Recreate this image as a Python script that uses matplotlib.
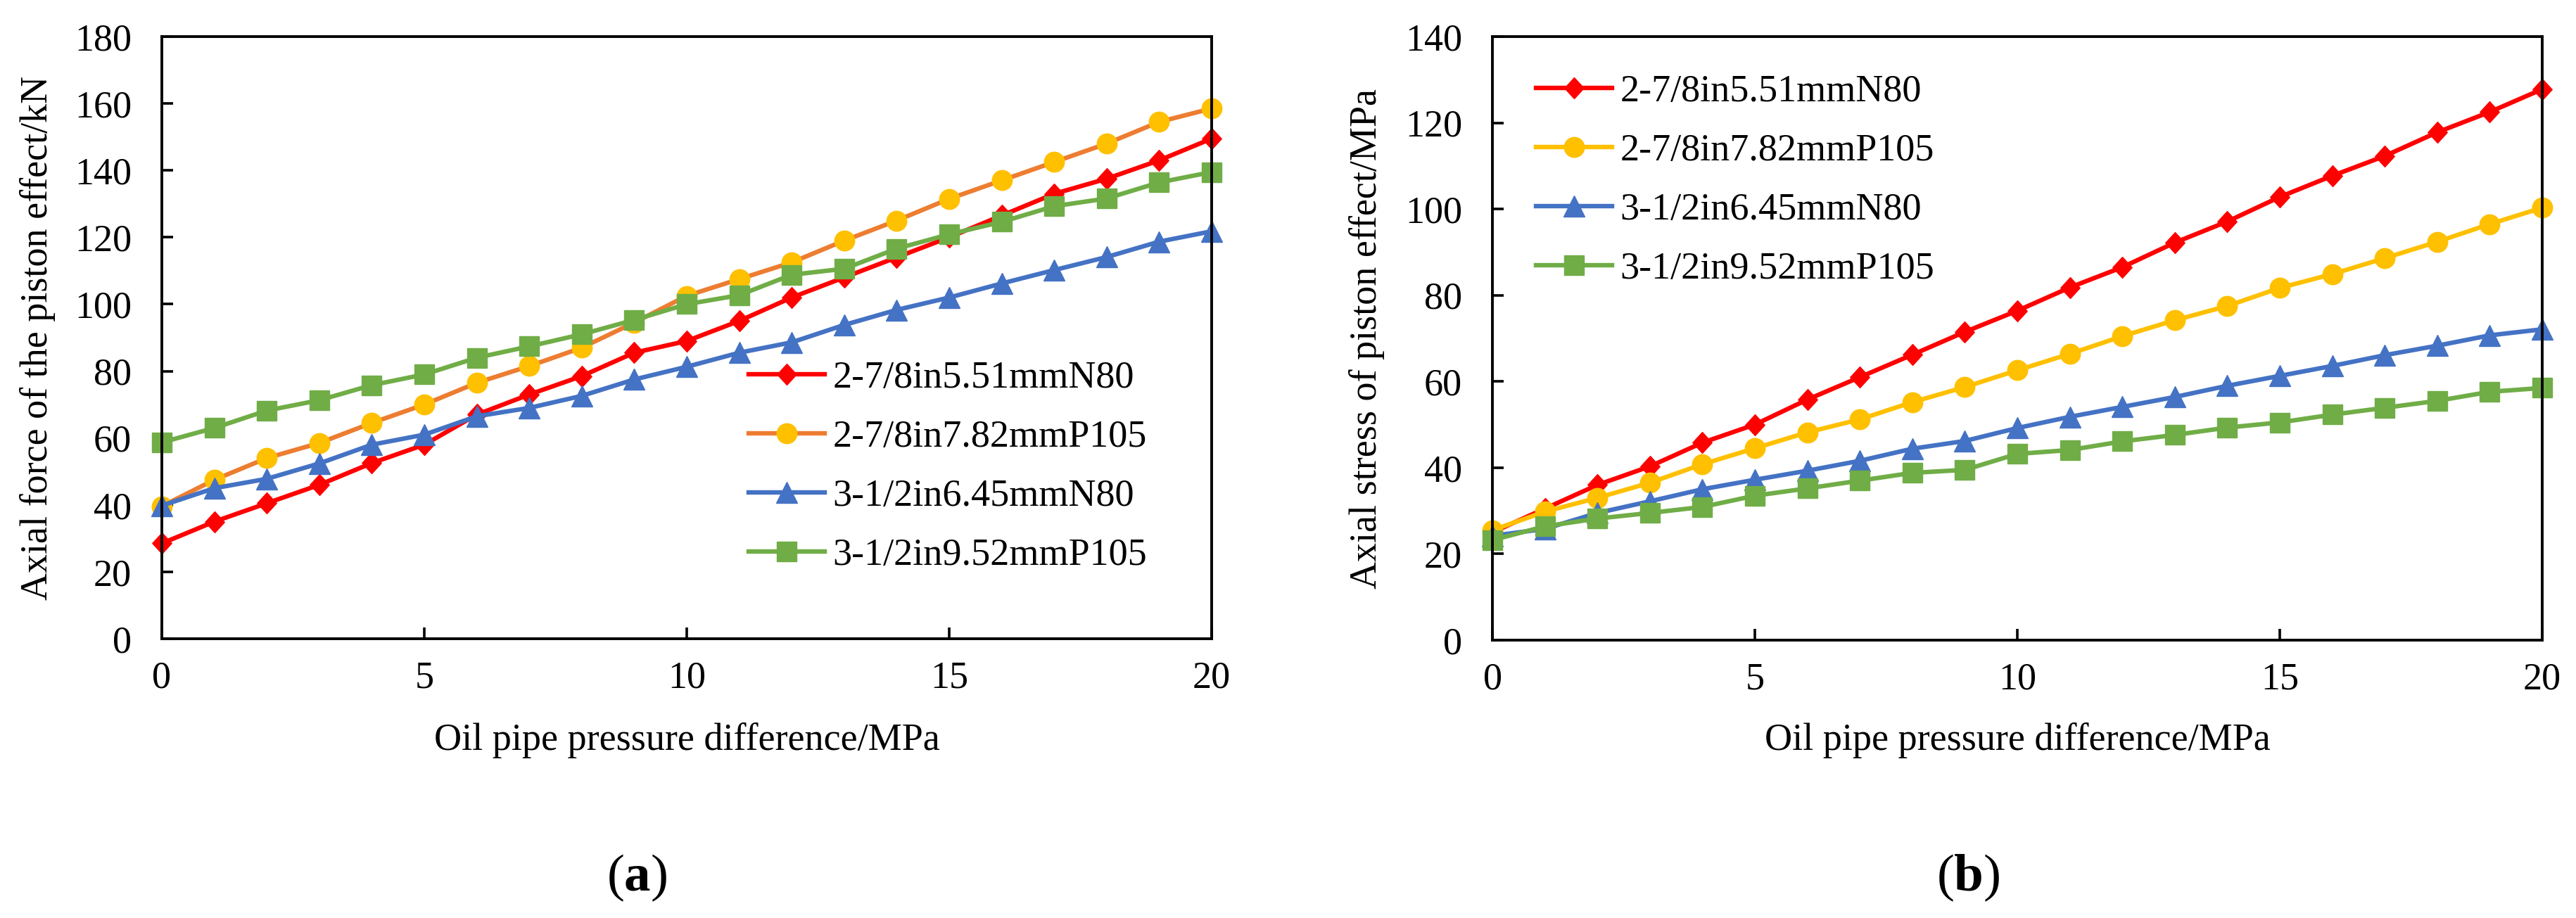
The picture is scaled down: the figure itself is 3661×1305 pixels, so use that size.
import matplotlib
matplotlib.use("Agg")
import matplotlib.pyplot as plt
from matplotlib.path import Path
import numpy as np

plt.rcParams['font.family'] = ['Liberation Serif', 'DejaVu Serif']
plt.rcParams['mathtext.fontset'] = 'custom'
plt.rcParams['mathtext.rm'] = 'Liberation Serif'
plt.rcParams['mathtext.bf'] = 'Liberation Serif:bold'

# ---------------- data ----------------
pressure = list(range(0, 21))
series_names = ["2-7/8in5.51mmN80", "2-7/8in7.82mmP105",
                "3-1/2in6.45mmN80", "3-1/2in9.52mmP105"]

force_n80_278 = [28.5, 35, 40.5, 46, 52.5, 58, 67, 73, 78.5, 85.5, 89, 95, 102, 108, 114,
                 120, 126.5, 133, 137.5, 143, 149.5]
force_p105_278 = [39.6, 47.5, 54, 58.5, 64.5, 70, 76.5, 81.5, 87, 94.5, 102.5, 107.5, 112.5,
                  119, 125, 131.5, 137, 142.5, 148, 154.5, 158.5]
force_n80_312 = [39.8, 45, 47.8, 52.4, 58, 61, 66.5, 69, 72.6, 77.5, 81.3, 85.5, 88.6, 93.8,
                 98.3, 102, 106.2, 110.2, 114.1, 118.7, 121.8]
force_p105_312 = [58.7, 63, 68.2, 71.3, 75.8, 79, 84, 87.4, 91, 95.3, 100, 102.7, 108.8, 110.6,
                  116.6, 120.9, 124.6, 129.3, 131.6, 136.4, 139.5]

stress_n80_278 = [25, 30.5, 36, 40.3, 45.8, 50, 55.8, 61, 66.2, 71.5, 76.4, 81.8, 86.5, 92.2,
                  97.1, 102.8, 107.7, 112.3, 117.8, 122.5, 127.8]
stress_p105_278 = [25.5, 29.8, 33, 36.5, 40.8, 44.5, 48.2, 51.2, 55.2, 58.7, 62.6, 66.4, 70.5,
                   74.2, 77.5, 81.7, 84.9, 88.6, 92.4, 96.5, 100.3]
stress_n80_312 = [24.2, 25.8, 29.5, 32.2, 35, 37.2, 39.3, 41.6, 44.4, 46.2, 49.2, 51.8, 54.1,
                  56.4, 59, 61.3, 63.6, 66.1, 68.3, 70.7, 72.1]
stress_p105_312 = [23.2, 26.4, 28.2, 29.5, 30.9, 33.5, 35.2, 37, 38.8, 39.5, 43.2, 44.1, 46.1,
                   47.6, 49.3, 50.5, 52.3, 53.9, 55.5, 57.6, 58.5]

x_ticks = [0, 5, 10, 15, 20]
y_ticks_a = list(range(0, 181, 20))
y_ticks_b = list(range(0, 141, 20))

xlabel = "Oil pipe pressure difference/MPa"
ylabel_a = "Axial force of the piston effect/kN"
ylabel_b = "Axial stress of piston effect/MPa"

# ---------------- styles ----------------
diamond = Path([(0, 1), (0.92, 0), (0, -1), (-0.92, 0), (0, 1)],
               [Path.MOVETO, Path.LINETO, Path.LINETO, Path.LINETO, Path.CLOSEPOLY])
markers = [diamond, 'o', '^', 's']
msizes = [21.5, 20.5, 21.5, 20.5]
marker_colors = ['#FF0000', '#FFC000', '#4472C4', '#70AD47']
line_colors_a = ['#FF0000', '#ED7D31', '#4472C4', '#70AD47']
line_colors_b = ['#FF0000', '#FFC000', '#4472C4', '#70AD47']

W, H = 3661, 1305
DPI = 100
fig = plt.figure(figsize=(W / DPI, H / DPI), dpi=DPI)
FS = 39


def px_rect(l, t, r, b):
    return [l / W, 1 - b / H, (r - l) / W, (b - t) / H]


def make_panel(rect, ys, lcolors, yticks, ylim):
    ax = fig.add_axes(rect)
    for y, name, lc, mc, mk, ms in zip(ys, series_names, lcolors, marker_colors, markers, msizes):
        ax.plot(pressure, y, color=lc, lw=4.6, marker=mk, ms=ms, mfc=mc, mec=mc, mew=1,
                label=name, clip_on=False)
    ax.set_xlim(0, 20)
    ax.set_ylim(*ylim)
    ax.set_xticks(x_ticks)
    ax.set_yticks(yticks)
    ax.tick_params(direction='in', length=11.5, width=2.6, labelsize=FS, top=False, right=False)
    ax.tick_params(axis='x', pad=22)
    ax.tick_params(axis='y', pad=31)
    for s in ax.spines.values():
        s.set_linewidth(2.8)
        s.set_color('black')
    return ax


ax1 = make_panel(px_rect(230, 52, 1722, 908),
                 [force_n80_278, force_p105_278, force_n80_312, force_p105_312],
                 line_colors_a, y_ticks_a, (0, 180))
ax2 = make_panel(px_rect(2121, 52, 3613, 910),
                 [stress_n80_278, stress_p105_278, stress_n80_312, stress_p105_312],
                 line_colors_b, y_ticks_b, (0, 140))

leg_kw = dict(frameon=False, fontsize=FS, loc='center left', borderpad=0, borderaxespad=0,
              handlelength=2.0, handletextpad=0.2, labelspacing=0.62, markerscale=1.0)
ax1.legend(bbox_to_anchor=(1064 / W, 1 - 664 / H), bbox_transform=fig.transFigure, **leg_kw)
ax2.legend(bbox_to_anchor=(2183 / W, 1 - 257 / H), bbox_transform=fig.transFigure, **leg_kw)

fig.text(976 / W, 1 - 1053 / H, xlabel, ha='center', va='center', fontsize=FS)
fig.text(2867 / W, 1 - 1053 / H, xlabel, ha='center', va='center', fontsize=FS)
fig.text(54 / W, 1 - 480 / H, ylabel_a, ha='center', va='center', rotation=90, fontsize=FS)
fig.text(1942 / W, 1 - 481 / H, ylabel_b, ha='center', va='center', rotation=90, fontsize=FS)

fig.text(905 / W, 1 - 1248 / H, r"($\mathbf{a}$)", ha='center', va='center', fontsize=54)
fig.text(2797 / W, 1 - 1248 / H, r"($\mathbf{b}$)", ha='center', va='center', fontsize=54)

fig.savefig("out.png", dpi=DPI, facecolor='white')
